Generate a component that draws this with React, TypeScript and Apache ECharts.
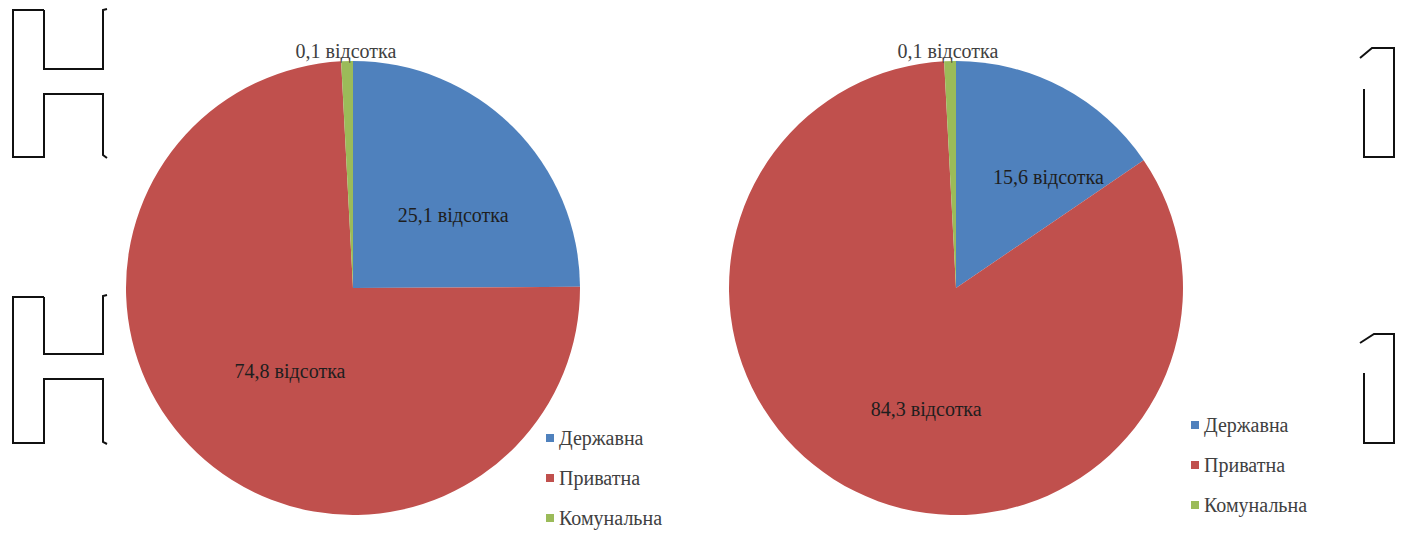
import React, { useEffect, useRef } from "react";
import * as echarts from "echarts";

const categories = ["Державна", "Приватна", "Комунальна"];
const leftValues = [25.1, 74.8, 0.1];
const rightValues = [15.6, 84.3, 0.1];
const colors = ["#4F81BD", "#C0504D", "#9BBB59"];

// label nudges (dx, dy) per slice
const leftLabelShift = [[18, 10], [17, -2], [-4, -121]];
const rightLabelShift = [[38, -8], [22, 17], [-5, -121]];

const FONT = "'Times New Roman', 'Liberation Serif', serif";

const fmt = (v: number) => `${String(v).replace(".", ",")} відсотка`;

const makeData = (vals: number[]) =>
  vals.map((v, i) => ({
    name: categories[i],
    value: v,
    itemStyle: { color: colors[i] },
    label: i === 2 ? { color: "#404040" } : { color: "#1e1e1e" },
  }));

export default function App() {
  const ref = useRef<HTMLDivElement>(null);
  useEffect(() => {
    if (!ref.current) return;
    const chart = echarts.init(ref.current, null, { renderer: "svg" });
    const line = (points: number[][]) => ({
      type: "polyline",
      shape: { points },
      style: { stroke: "#111", lineWidth: 2, fill: null },
      silent: true,
    });
    const pieBase = {
      type: "pie",
      radius: 227,
      startAngle: 90,
      clockwise: true,
      minAngle: 3,
      avoidLabelOverlap: false,
      label: {
        show: true,
        position: "inside",
        fontFamily: FONT,
        fontSize: 20,
        formatter: (p: any) => fmt(p.value),
      },
      labelLine: { show: false },
      emphasis: { disabled: true },
    };
    const legendBase = {
      orient: "vertical",
      icon: "rect",
      itemWidth: 8,
      itemHeight: 8,
      itemGap: 20,
      data: categories,
      textStyle: { fontFamily: FONT, fontSize: 20, color: "#404040" },
      selectedMode: false,
    };
    chart.setOption({
      animation: false,
      backgroundColor: "#ffffff",
      textStyle: { fontFamily: FONT },
      legend: [
        { ...legendBase, left: 541, top: 423 },
        { ...legendBase, left: 1186, top: 410 },
      ],
      series: [
        {
          ...pieBase,
          center: [353, 288],
          data: makeData(leftValues),
          labelLayout: (p: any) => ({ dx: leftLabelShift[p.dataIndex][0], dy: leftLabelShift[p.dataIndex][1] }),
        },
        {
          ...pieBase,
          center: [956, 288],
          data: makeData(rightValues),
          labelLayout: (p: any) => ({ dx: rightLabelShift[p.dataIndex][0], dy: rightLabelShift[p.dataIndex][1] }),
        },
      ],
      graphic: [
        line([[44, 10], [13, 10], [13, 157], [44, 157], [44, 94], [103, 94], [103, 155], [107, 158]]),
        line([[44, 10], [44, 69], [103, 69], [103, 10], [107, 9]]),
        line([[44, 297], [13, 297], [13, 443], [44, 443], [44, 379], [103, 379], [103, 442], [107, 444]]),
        line([[44, 297], [44, 354], [103, 354], [103, 296], [107, 295]]),
        line([[1360, 58], [1372, 48], [1394, 48], [1394, 157], [1364, 157], [1364, 89]]),
        line([[1360, 343], [1374, 334], [1394, 334], [1394, 443], [1364, 443], [1364, 373]]),
      ],
    });
    return () => chart.dispose();
  }, []);
  return (
    <div
      ref={ref}
      style={{ position: "fixed", left: 0, top: 0, width: 1414, height: 541, background: "#fff" }}
    />
  );
}
